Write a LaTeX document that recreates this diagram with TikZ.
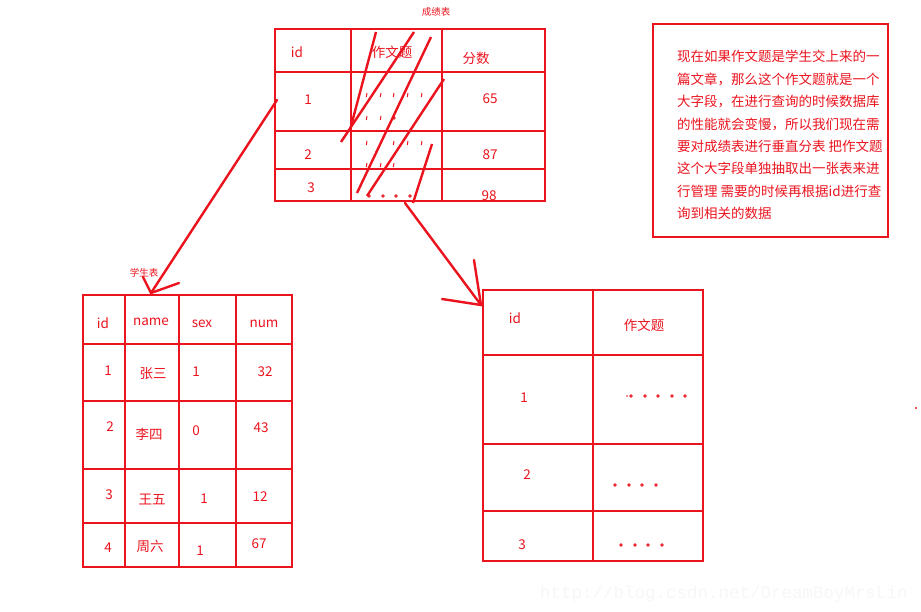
\documentclass[tikz,border=0pt]{standalone}
\usepackage{fontspec}
\setmainfont{Noto Sans CJK SC}
\newfontfamily\wmfont{Liberation Mono}
\definecolor{pr}{RGB}{235,20,30}
\begin{document}
\begin{tikzpicture}[x=1pt,y=-1pt,
  tbl/.style={draw=pr, line width=2.6pt},
  txt/.style={text=pr, font=\fontsize{13.5}{15}\selectfont, inner sep=0pt},
  cjk/.style={text=pr, font=\fontsize{13.5}{16}\selectfont, inner sep=0pt},
  small/.style={text=pr, font=\fontsize{9.5}{11}\selectfont, inner sep=0pt},
  arr/.style={draw=pr, line width=2.4pt, line cap=round},
  slash/.style={draw=pr, line width=2.4pt},
  tickmark/.style={draw=pr, line width=1pt},
  dotmark/.style={draw=pr, line width=0.8pt}
]
\useasboundingbox (0,0) rectangle (921,612);
\fill[white] (0,0) rectangle (921,612);

% ---------- top table (成绩表) ----------
\node[small] (t0) at (436,12) {成绩表};
\draw[tbl] (275,29) rectangle (545,201);
\draw[tbl] (351,29) -- (351,201) (442,29) -- (442,201);
\draw[tbl] (275,72) -- (545,72) (275,131) -- (545,131) (275,169) -- (545,169);
\node[txt] (tid) at (297,52) {id};
\node[cjk] (tzw) at (392,52) {作文题};
\node[cjk] (tfs) at (476,58) {分数};
\node[txt] (t11) at (308,100) {1};
\node[txt] (t12) at (490,99) {65};
\node[txt] (t21) at (308,155) {2};
\node[txt] (t22) at (490,155) {87};
\node[txt] (t31) at (311,188) {3};
\node[txt] (t32) at (489,196) {98};
% tick marks
\foreach \x in {367,381,394,408,422} \draw[tickmark] (\x,93) -- (\x-0.7,97);
\foreach \x in {367,381} \draw[tickmark] (\x,116) -- (\x-0.7,120);
\draw[dotmark] (394,118) circle (1.3);
\foreach \x in {367,394,408,422} \draw[tickmark] (\x,141) -- (\x-0.7,145);
\foreach \x in {367,381,394} \draw[tickmark] (\x,163) -- (\x-0.7,167);
\foreach \x in {369,383,396,410} \draw[dotmark] (\x,196) circle (1.3);
% slashes
\draw[slash] (376,32) -- (350,130);
\draw[slash] (414,32) -- (341,142);
\draw[slash] (431,37) -- (357,193);
\draw[slash] (444,79) -- (367,196);
\draw[slash] (432,144) -- (413,203);

% ---------- note box ----------
\draw[draw=pr, line width=2.6pt] (653,24) rectangle (888,237);
\foreach \i/\s in {0/{现在如果作文题是学生交上来的一},
                   1/{篇文章，那么这个作文题就是一个},
                   2/{大字段，在进行查询的时候数据库},
                   3/{的性能就会变慢，所以我们现在需},
                   4/{要对成绩表进行垂直分表 把作文题},
                   5/{这个大字段单独抽取出一张表来进},
                   6/{行管理 需要的时候再根据id进行查},
                   7/{询到相关的数据}}
  \node[cjk, anchor=base west] (n\i) at (677,{62+22.4*\i}) {\s};

% ---------- student table (学生表) ----------
\node[small] (s0) at (144,273) {学生表};
\draw[tbl] (83,295) rectangle (292,567);
\draw[tbl] (125,295) -- (125,567) (179,295) -- (179,567) (236,295) -- (236,567);
\draw[tbl] (83,344) -- (292,344) (83,401) -- (292,401) (83,469) -- (292,469) (83,523) -- (292,523);
\node[txt] (sid) at (103,323) {id};
\node[txt] (sname) at (151,322) {name};
\node[txt] (ssex) at (202,324) {sex};
\node[txt] (snum) at (264,324) {num};
\node[txt] (s11) at (108,371) {1};
\node[cjk] (s12) at (153,374) {张三};
\node[txt] (s13) at (196,372) {1};
\node[txt] (s14) at (265,372) {32};
\node[txt] (s21) at (110,427) {2};
\node[cjk] (s22) at (149,434) {李四};
\node[txt] (s23) at (196,431) {0};
\node[txt] (s24) at (261,428) {43};
\node[txt] (s31) at (109,495) {3};
\node[cjk] (s32) at (152,500) {王五};
\node[txt] (s33) at (204,499) {1};
\node[txt] (s34) at (260,497) {12};
\node[txt] (s41) at (108,548) {4};
\node[cjk] (s42) at (150,546) {周六};
\node[txt] (s43) at (200,551) {1};
\node[txt] (s44) at (259,544) {67};

% ---------- split table ----------
\draw[tbl] (483,290) rectangle (703,561);
\draw[tbl] (593,290) -- (593,561);
\draw[tbl] (483,355) -- (703,355) (483,444) -- (703,444) (483,511) -- (703,511);
\node[txt] (cid) at (515,318) {id};
\node[cjk] (czw) at (644,325) {作文题};
\node[txt] (c1) at (524,398) {1};
\node[txt] (c2) at (527,475) {2};
\node[txt] (c3) at (522,545) {3};
\fill[pr] (627,396) circle (0.8);
\foreach \x in {631,645,658,672,685} \draw[dotmark] (\x,396) circle (1.3);
\foreach \x in {615,629,642,656} \draw[dotmark] (\x,485) circle (1.3);
\foreach \x in {621,635,648,662} \draw[dotmark] (\x,545) circle (1.3);
\fill[pr] (916,408) circle (1.2);

% ---------- arrows ----------
\coordinate (a1s) at (277,100);
\coordinate (a1t) at (151,293);
\coordinate (a1b1) at (143,277);
\coordinate (a1b2) at (179,283);
\draw[arr] (a1s) -- (a1t);
\draw[arr] (a1b1) -- (a1t) -- (a1b2);

\coordinate (a2s) at (405,203);
\coordinate (a2t) at (481,305);
\coordinate (a2b1) at (474,260);
\coordinate (a2b2) at (442,299);
\draw[arr] (a2s) -- (a2t);
\draw[arr] (a2b1) -- (a2t) -- (a2b2);

% ---------- watermark ----------
\node[text=gray!6, font=\wmfont\fontsize{17.5}{20}\selectfont, inner sep=0pt, anchor=west] (wm) at (540,594) {http://blog.csdn.net/DreamBoyMrsLin};
\end{tikzpicture}
\end{document}
